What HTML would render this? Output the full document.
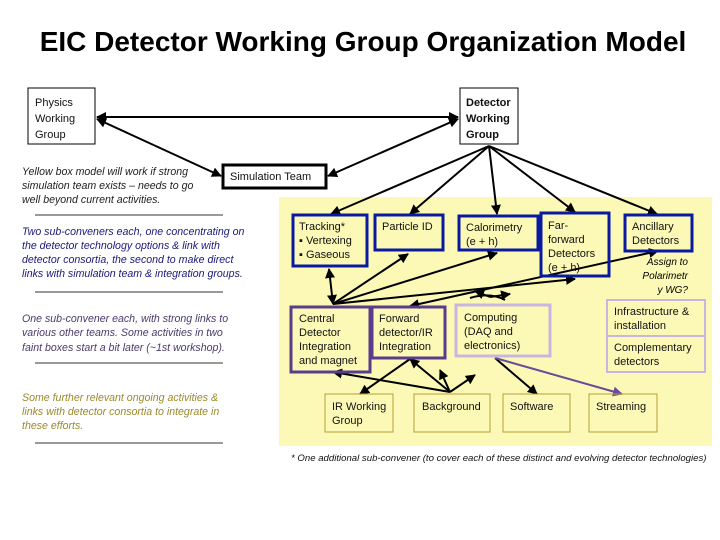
<!DOCTYPE html>
<html><head><meta charset="utf-8"><style>
html,body{margin:0;padding:0;background:#fff}
svg{display:block}
text{font-family:"Liberation Sans",sans-serif}
.s{font-size:11px;fill:#111}
.i{font-size:10px;font-style:italic}
.l{font-size:10.6px;font-style:italic}
</style></head><body>
<svg width="720" height="540" viewBox="0 0 720 540" xmlns="http://www.w3.org/2000/svg">
<defs>
<marker id="a" viewBox="0 0 10 10" refX="9" refY="5" markerWidth="5" markerHeight="5" orient="auto-start-reverse"><path d="M0,0L10,5L0,10z" fill="#000"/></marker>
<marker id="p" viewBox="0 0 10 10" refX="9" refY="5" markerWidth="5" markerHeight="5" orient="auto-start-reverse"><path d="M0,0L10,5L0,10z" fill="#6a4a9a"/></marker>
</defs>
<text x="363" y="51" text-anchor="middle" font-size="28" font-weight="bold" fill="#000">EIC Detector Working Group Organization Model</text>
<rect x="279" y="197" width="433" height="249" fill="#fcf9b6"/>
<rect x="28" y="88" width="67" height="56" fill="#fff" stroke="#000"/>
<text class="s" x="35" y="106">Physics</text><text class="s" x="35" y="122">Working</text><text class="s" x="35" y="138">Group</text>
<rect x="460" y="88" width="58" height="56" fill="#fff" stroke="#000"/>
<text class="s" x="466" y="106" font-weight="bold" fill="#1a2a5a">Detector</text><text class="s" x="466" y="122" font-weight="bold" fill="#1a2a5a">Working</text><text class="s" x="466" y="138" font-weight="bold" fill="#1a2a5a">Group</text>
<rect x="223" y="165" width="103" height="23" fill="#fff" stroke="#000" stroke-width="3"/>
<text class="s" x="230" y="180">Simulation Team</text>
<g stroke="#000" stroke-width="2" fill="none">
<line x1="97" y1="117" x2="458" y2="117" marker-start="url(#a)" marker-end="url(#a)"/>
<line x1="97" y1="119" x2="221" y2="176" marker-start="url(#a)" marker-end="url(#a)"/>
<line x1="328" y1="176" x2="458" y2="119" marker-start="url(#a)" marker-end="url(#a)"/>
<line x1="489" y1="146" x2="331" y2="214" marker-end="url(#a)"/>
<line x1="489" y1="146" x2="410" y2="214" marker-end="url(#a)"/>
<line x1="489" y1="146" x2="497" y2="214" marker-end="url(#a)"/>
<line x1="489" y1="146" x2="575" y2="212" marker-end="url(#a)"/>
<line x1="489" y1="146" x2="657" y2="214" marker-end="url(#a)"/>
<line x1="333" y1="304" x2="329" y2="269" marker-start="url(#a)" marker-end="url(#a)"/>
<line x1="333" y1="304" x2="408" y2="254" marker-end="url(#a)"/>
<line x1="333" y1="304" x2="497" y2="253" marker-end="url(#a)"/>
<line x1="333" y1="304" x2="575" y2="279" marker-end="url(#a)"/>
<line x1="410" y1="306" x2="658" y2="251" marker-start="url(#a)" marker-end="url(#a)"/>
<path d="M470,298 Q490,292 505,300" />
<line x1="490" y1="297" x2="475" y2="291" marker-end="url(#a)"/>
<line x1="490" y1="297" x2="510" y2="294" marker-end="url(#a)"/>
<line x1="333" y1="372" x2="450" y2="392" marker-start="url(#a)"/>
<line x1="450" y1="392" x2="410" y2="359" marker-end="url(#a)"/>
<line x1="410" y1="359" x2="360" y2="394" marker-end="url(#a)"/>
<line x1="450" y1="392" x2="440" y2="370" marker-end="url(#a)"/>
<line x1="450" y1="392" x2="475" y2="375" marker-end="url(#a)"/>
<line x1="495" y1="358" x2="537" y2="394" marker-end="url(#a)"/>
</g>
<line x1="495" y1="358" x2="622" y2="394" stroke="#6a4a9a" stroke-width="2" marker-end="url(#p)"/>
<g fill="none" stroke="#0a1aa0" stroke-width="3">
<rect x="293" y="215" width="74" height="51"/>
<rect x="375" y="215" width="68" height="35"/>
<rect x="459" y="216" width="79" height="34"/>
<rect x="541" y="213" width="68" height="63"/>
<rect x="625" y="215" width="67" height="36"/>
</g>
<text class="s" x="299" y="230">Tracking*</text><text class="s" x="299" y="244">▪ Vertexing</text><text class="s" x="299" y="258">▪ Gaseous</text>
<text class="s" x="382" y="230">Particle ID</text>
<text class="s" x="466" y="231">Calorimetry</text><text class="s" x="466" y="245">(e + h)</text>
<text class="s" x="548" y="229">Far-</text><text class="s" x="548" y="243">forward</text><text class="s" x="548" y="257">Detectors</text><text class="s" x="548" y="271">(e + h)</text>
<text class="s" x="632" y="230">Ancillary</text><text class="s" x="632" y="244">Detectors</text>
<text class="i" x="688" y="265" text-anchor="end">Assign to</text><text class="i" x="688" y="279" text-anchor="end">Polarimetr</text><text class="i" x="688" y="293" text-anchor="end">y WG?</text>
<g fill="none" stroke="#5a3c8a" stroke-width="3">
<rect x="291" y="307" width="79" height="65"/>
<rect x="372" y="307" width="73" height="51"/>
</g>
<rect x="456" y="305" width="94" height="51" fill="none" stroke="#c8b6e0" stroke-width="3"/>
<rect x="607" y="300" width="98" height="36" fill="none" stroke="#c8b6e0" stroke-width="2"/>
<rect x="607" y="336" width="98" height="36" fill="none" stroke="#c8b6e0" stroke-width="2"/>
<text class="s" x="299" y="322">Central</text><text class="s" x="299" y="336">Detector</text><text class="s" x="299" y="350">Integration</text><text class="s" x="299" y="364">and magnet</text>
<text class="s" x="379" y="322">Forward</text><text class="s" x="379" y="336">detector/IR</text><text class="s" x="379" y="350">Integration</text>
<text class="s" x="464" y="321">Computing</text><text class="s" x="464" y="335">(DAQ and</text><text class="s" x="464" y="349">electronics)</text>
<text class="s" x="614" y="315" fill="#8a7a9a">Infrastructure &amp;</text><text class="s" x="614" y="329" fill="#8a7a9a">installation</text>
<text class="s" x="614" y="351" fill="#8a7a9a">Complementary</text><text class="s" x="614" y="365" fill="#8a7a9a">detectors</text>
<g fill="none" stroke="#b8a038" stroke-width="1">
<rect x="325" y="394" width="68" height="38"/>
<rect x="414" y="394" width="76" height="38"/>
<rect x="503" y="394" width="67" height="38"/>
<rect x="589" y="394" width="68" height="38"/>
</g>
<text class="s" x="332" y="410">IR Working</text><text class="s" x="332" y="424">Group</text>
<text class="s" x="422" y="410">Background</text>
<text class="s" x="510" y="410">Software</text>
<text class="s" x="596" y="410">Streaming</text>
<text x="291" y="461" font-size="9.6" font-style="italic" fill="#111">* One additional sub-convener (to cover each of these distinct and evolving detector technologies)</text>
<text class="l" x="22" y="175" fill="#222">Yellow box model will work if strong</text>
<text class="l" x="22" y="189" fill="#222">simulation team exists – needs to go</text>
<text class="l" x="22" y="203" fill="#222">well beyond current activities.</text>
<g stroke="#333" stroke-width="1">
<line x1="35" y1="215" x2="223" y2="215"/>
<line x1="35" y1="292" x2="223" y2="292"/>
<line x1="35" y1="363" x2="223" y2="363"/>
<line x1="35" y1="443" x2="223" y2="443"/>
</g>
<g fill="#1a1a7a">
<text class="l" x="22" y="235">Two sub-conveners each, one concentrating on</text>
<text class="l" x="22" y="249">the detector technology options &amp; link with</text>
<text class="l" x="22" y="263">detector consortia, the second to make direct</text>
<text class="l" x="22" y="277">links with simulation team &amp; integration groups.</text>
</g>
<g fill="#4a3a6a">
<text class="l" x="22" y="322">One sub-convener each, with strong links to</text>
<text class="l" x="22" y="336">various other teams. Some activities in two</text>
<text class="l" x="22" y="351">faint boxes start a bit later (~1st workshop).</text>
</g>
<g fill="#9a8a2a">
<text class="l" x="22" y="401">Some further relevant ongoing activities &amp;</text>
<text class="l" x="22" y="415">links with detector consortia to integrate in</text>
<text class="l" x="22" y="429">these efforts.</text>
</g>
</svg>
</body></html>
